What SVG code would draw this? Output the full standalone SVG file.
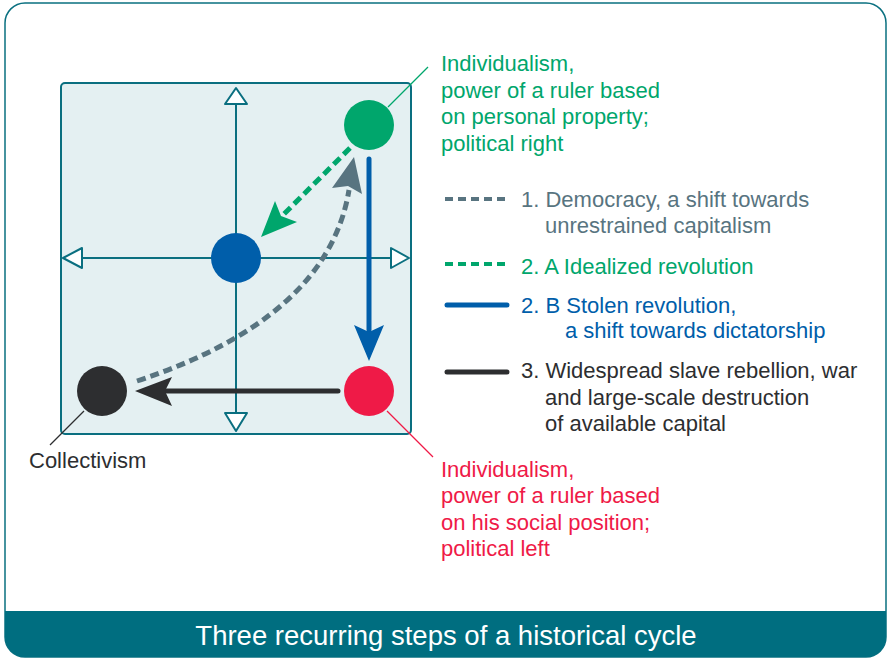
<svg xmlns="http://www.w3.org/2000/svg" width="888" height="660" viewBox="0 0 888 660">
<style>
text{font-family:"Liberation Sans",Arial,sans-serif;font-size:22px}
.g{fill:#00a66c}.r{fill:#ef1a47}.k{fill:#2d2e30}.b{fill:#005eaa}.s{fill:#587480}
.axis{stroke:#0a6f80;stroke-width:2;fill:none}
.ah{fill:#fff;stroke:#0a6f80;stroke-width:2;stroke-linejoin:round}
.dash{fill:none;stroke-width:5;stroke-dasharray:9 5}
.solid{fill:none;stroke-width:5;stroke-linecap:round}
.lead{fill:none;stroke-width:1.3}
</style>
<rect x="5" y="3" width="881" height="654" rx="20" fill="#fff" stroke="#0a7080" stroke-width="1.5"/>
<path d="M5,611 H886 V637 a20,20 0 0 1 -20,20 H25 a20,20 0 0 1 -20,-20 Z" fill="#006e80"/>
<text x="446" y="645" text-anchor="middle" fill="#fff" style="font-size:27.5px">Three recurring steps of a historical cycle</text>

<g id="chart">
<rect x="61" y="83" width="350" height="351" rx="4" fill="#e4f0f2" stroke="#0a6f80" stroke-width="2"/>
<line class="axis" x1="236" y1="104" x2="236" y2="413"/>
<line class="axis" x1="82" y1="258" x2="391" y2="258"/>
<polygon class="ah" points="236,88 225,104 247,104"/>
<polygon class="ah" points="236,431 225,413 247,413"/>
<polygon class="ah" points="63,258 82,248 82,268"/>
<polygon class="ah" points="409,258 391,248 391,268"/>
</g>

<g id="connectors">
<path class="dash" stroke="#587480" d="M137,381 Q328,318 349,190"/>
<polygon class="s" points="354,157 362,194 348,186 332,188"/>
<line class="dash" stroke="#00a66c" x1="350" y1="148" x2="282" y2="216"/>
<polygon class="g" points="261,237 275,201 281,216 297,222"/>
<line class="solid" stroke="#005eaa" x1="369" y1="159" x2="369" y2="330"/>
<polygon class="b" points="369,361 354,325 369,332 384,325"/>
<line class="solid" stroke="#2d2e30" x1="338" y1="391" x2="166" y2="391"/>
<polygon class="k" points="135,391 172,377 165,391 172,406"/>
<line class="lead" stroke="#00a66c" x1="388" y1="107" x2="428" y2="67"/>
<line class="lead" stroke="#ef1a47" x1="387" y1="411" x2="433" y2="457"/>
<line class="lead" stroke="#2d2e30" x1="84" y1="411" x2="50" y2="445"/>
</g>

<g id="node-right">
<circle cx="369" cy="125" r="25" fill="#00a66c"/>
<text class="g" x="441" y="71">Individualism,</text>
<text class="g" x="441" y="98">power of a ruler based</text>
<text class="g" x="441" y="124">on personal property;</text>
<text class="g" x="441" y="151">political right</text>
</g>
<g id="node-center">
<circle cx="236" cy="258" r="25" fill="#005eaa"/>
</g>
<g id="node-collectivism">
<circle cx="102" cy="391" r="25" fill="#2d2e30"/>
<text class="k" x="29" y="468">Collectivism</text>
</g>
<g id="node-left">
<circle cx="369" cy="391" r="25" fill="#ef1a47"/>
<text class="r" x="441" y="477">Individualism,</text>
<text class="r" x="441" y="503">power of a ruler based</text>
<text class="r" x="441" y="530">on his social position;</text>
<text class="r" x="441" y="556">political left</text>
</g>

<g id="legend">
<line class="dash" stroke="#587480" x1="445" y1="199" x2="508" y2="199" style="stroke-width:4;stroke-dasharray:8 5"/>
<text class="s" x="521" y="207">1. Democracy, a shift towards</text>
<text class="s" x="545" y="233">unrestrained capitalism</text>
<line class="dash" stroke="#00a66c" x1="445" y1="264" x2="508" y2="264" style="stroke-width:4;stroke-dasharray:8 5"/>
<text class="g" x="521" y="274">2. A Idealized revolution</text>
<line class="solid" stroke="#005eaa" x1="447" y1="305" x2="507" y2="305"/>
<text class="b" x="521" y="313">2. B Stolen revolution,</text>
<text class="b" x="565" y="338">a shift towards dictatorship</text>
<line class="solid" stroke="#2d2e30" x1="447" y1="372" x2="507" y2="372"/>
<text class="k" x="521" y="378">3. Widespread slave rebellion, war</text>
<text class="k" x="545" y="405">and large-scale destruction</text>
<text class="k" x="545" y="431">of available capital</text>
</g>
</svg>
